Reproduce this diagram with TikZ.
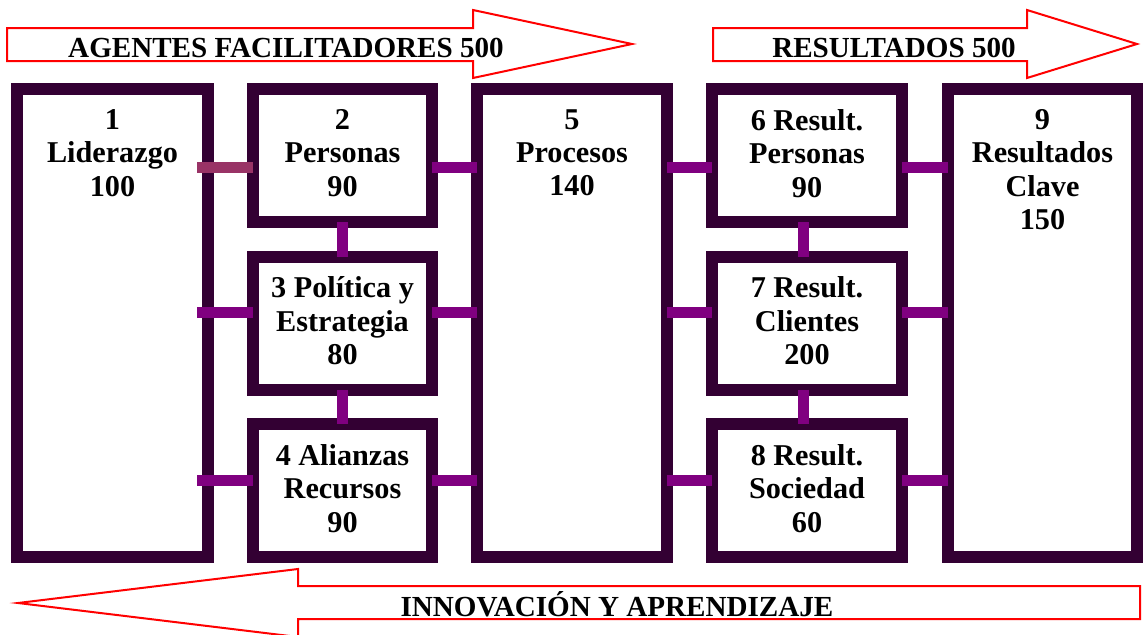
\documentclass[tikz,border=0pt]{standalone}
\usepackage{fontspec}
\setmainfont{Liberation Serif}
\usetikzlibrary{positioning}
\definecolor{borde}{HTML}{330033}
\definecolor{morado}{HTML}{800080}
\definecolor{malva}{HTML}{993366}

\begin{document}
\begin{tikzpicture}[node distance=0.8625cm and 1.125cm,
  caja/.style={draw=borde, line width=0.3cm, fill=white, inner sep=0pt, outer sep=0pt, minimum width=4.75cm},
  alta/.style={caja, minimum height=11.7cm},
  baja/.style={caja, minimum height=3.325cm},
  txt/.style={font=\fontsize{21.5}{23.8}\selectfont\bfseries, align=center, inner sep=0pt},
  rotulo/.style={font=\fontsize{20.7}{23}\selectfont\bfseries, inner sep=0pt, anchor=base},
  enlace/.style={draw=morado, line width=0.275cm},
  flecha/.style={draw=red, line width=0.05cm, fill=white}]
 \useasboundingbox (0,0) rectangle (28.6,-15.875);

 \draw[flecha] (0.175,-0.7) -- (11.825,-0.7) -- (11.825,-0.25) -- (15.8,-1.1) -- (11.825,-1.95) -- (11.825,-1.525) -- (0.175,-1.525) -- cycle;
 \draw[flecha] (17.825,-0.7) -- (25.675,-0.7) -- (25.675,-0.25) -- (28.425,-1.1) -- (25.675,-1.95) -- (25.675,-1.525) -- (17.825,-1.525) -- cycle;
 \draw[flecha] (28.5,-14.65) -- (7.45,-14.65) -- (7.45,-14.225) -- (0.45,-15.075) -- (7.45,-15.925) -- (7.45,-15.475) -- (28.5,-15.475) -- cycle;
 \node[rotulo] (agentes) at (7.15,-1.425) {AGENTES FACILITADORES 500};
 \node[rotulo] (result) at (22.35,-1.425) {RESULTADOS 500};
 \node[rotulo] (innov) at (15.425,-15.4) {INNOVACIÓN Y APRENDIZAJE};

 \node[alta, anchor=north west, minimum width=4.775cm] (lid) at (0.425,-2.225) {};
 \node[baja, minimum width=4.475cm, right=of lid.north east, anchor=north west] (per) {};
 \node[baja, minimum width=4.475cm, below=of per] (pol) {};
 \node[baja, minimum width=4.475cm, below=of pol] (ali) {};
 \node[alta, right=of per.north east, anchor=north west] (pro) {};
 \node[baja, right=of pro.north east, anchor=north west] (rper) {};
 \node[baja, below=of rper] (rcli) {};
 \node[baja, below=of rcli] (rsoc) {};
 \node[alta, minimum width=4.725cm, right=1.15cm of rper.north east, anchor=north west] (clave) {};

 \node[txt, below=0.5cm of lid.north] (tlid) {1\\Liderazgo\\100};
 \node[txt, below=0.5cm of per.north] (tper) {2\\Personas\\90};
 \node[txt, below=0.5cm of pol.north] (tpol) {3 Política y\\Estrategia\\80};
 \node[txt, below=0.5cm of ali.north] (tali) {4 Alianzas\\Recursos\\90};
 \node[txt, below=0.5cm of pro.north] (tpro) {5\\Procesos\\140};
 \node[txt, below=0.5cm of rper.north] (trper) {6 Result.\\Personas\\90};
 \node[txt, below=0.5cm of rcli.north] (trcli) {7 Result.\\Clientes\\200};
 \node[txt, below=0.5cm of rsoc.north] (trsoc) {8 Result.\\Sociedad\\60};
 \node[txt, below=0.5cm of clave.north] (tclave) {9\\Resultados\\Clave\\150};

 \coordinate (f1) at (0,-4.175);
 \coordinate (f2) at (0,-7.8);
 \coordinate (f3) at (0,-12);

 \draw[enlace, draw=malva] ([xshift=-0.275cm]lid.east |- f1) -- (per.west |- f1);
 \draw[enlace] ([xshift=-0.275cm]lid.east |- f2) -- (pol.west |- f2);
 \draw[enlace] ([xshift=-0.275cm]lid.east |- f3) -- (ali.west |- f3);
 \draw[enlace] (per.east |- f1) -- (pro.west |- f1);
 \draw[enlace] (pol.east |- f2) -- (pro.west |- f2);
 \draw[enlace] (ali.east |- f3) -- (pro.west |- f3);
 \draw[enlace] (pro.east |- f1) -- (rper.west |- f1);
 \draw[enlace] (pro.east |- f2) -- (rcli.west |- f2);
 \draw[enlace] (pro.east |- f3) -- (rsoc.west |- f3);
 \draw[enlace] (rper.east |- f1) -- (clave.west |- f1);
 \draw[enlace] (rcli.east |- f2) -- (clave.west |- f2);
 \draw[enlace] (rsoc.east |- f3) -- (clave.west |- f3);

 \draw[enlace] (per.south) -- (pol.north);
 \draw[enlace] (pol.south) -- (ali.north);
 \draw[enlace] ([xshift=-0.1cm]rper.south) -- ([xshift=-0.1cm]rcli.north);
 \draw[enlace] ([xshift=-0.1cm]rcli.south) -- ([xshift=-0.1cm]rsoc.north);
\end{tikzpicture}
\end{document}
